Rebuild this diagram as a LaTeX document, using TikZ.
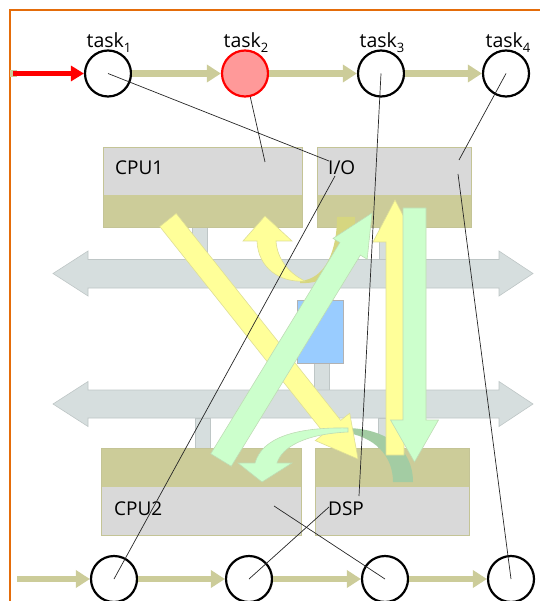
\documentclass[tikz,border=0pt]{standalone}
\usepackage{fontspec}
\setmainfont{Open Sans}
\usetikzlibrary{calc,arrows.meta}
\definecolor{olv}{RGB}{204,204,153}
\definecolor{boxgray}{RGB}{217,217,217}
\definecolor{boxline}{RGB}{196,196,150}
\definecolor{busc}{RGB}{214,222,222}
\definecolor{busline}{RGB}{190,198,198}
\definecolor{bluec}{RGB}{153,204,255}
\definecolor{yelc}{RGB}{255,255,153}
\definecolor{yelline}{RGB}{222,222,150}
\definecolor{grnc}{RGB}{204,255,204}
\definecolor{grnline}{RGB}{190,220,180}
\definecolor{dkgrn}{RGB}{163,204,163}
\definecolor{dkyel}{RGB}{214,214,128}
\definecolor{framec}{RGB}{228,108,10}
\definecolor{pinkc}{RGB}{255,153,153}
\newcommand{\tsub}[1]{\raisebox{-4.5pt}{\fontsize{13}{13}\selectfont #1}}
\newcommand{\blockarr}[6]{%
  \coordinate (hb) at ($(#2)!#5!(#1)$);
  \filldraw[#6] ($(#1)!#3!90:(#2)$) -- ($(hb)!#3!90:(#2)$) -- ($(hb)!#4!90:(#2)$) -- (#2)
    -- ($(hb)!#4!-90:(#2)$) -- ($(hb)!#3!-90:(#2)$) -- ($(#1)!#3!-90:(#2)$) -- cycle;}
\tikzset{
 lbl/.style={font=\fontsize{19}{22}\selectfont, inner sep=0pt},
 tlbl/.style={font=\fontsize{19.5}{22}\selectfont, inner sep=0pt},
 tcirc/.style={circle, draw=black, line width=2.2pt, minimum size=46pt, inner sep=0pt},
 hotcirc/.style={tcirc, draw=red, fill=pinkc},
 oarr/.style={draw=olv, line width=6.5pt, -{Triangle[length=14pt,width=17pt]}},
 rarr/.style={draw=red, line width=5pt, -{Triangle[length=13pt,width=15pt]}},
 mapl/.style={draw=black!85, line width=0.7pt},
 boxb/.style={draw=boxline, line width=0.8pt},
 busst/.style={fill=busc, draw=busline, line width=0.6pt},
 yel/.style={fill=yelc, draw=yelline, line width=0.6pt},
 grn/.style={fill=grnc, draw=grnline, line width=0.6pt},
}
\begin{document}
\begin{tikzpicture}[x=1pt,y=-1pt]
\useasboundingbox (0,0) rectangle (539,601);
% frame
\draw[framec, line width=2pt] (10,602) -- (10,10) -- (540,10);

% task circles
\node[tcirc] (t1) at (108,73.5) {};
\node[hotcirc] (t2) at (245,73.5) {};
\node[tcirc] (t3) at (381,73.5) {};
\node[tcirc] (t4) at (506,73.5) {};
\node[tlbl, anchor=base] (l1) at (109,48) {task\tsub{1}};
\node[tlbl, anchor=base] (l2) at (246,48) {task\tsub{2}};
\node[tlbl, anchor=base] (l3) at (382,48) {task\tsub{3}};
\node[tlbl, anchor=base] (l4) at (508,48) {task\tsub{4}};
\node[tcirc] (b1) at (114,579) {};
\node[tcirc] (b2) at (249,579) {};
\node[tcirc] (b3) at (385,579) {};
\node[tcirc] (b4) at (511,579) {};

% flow arrows
\coordinate (oin) at (10,73.5);
\coordinate (oend) at (17,73.5);
\draw[olv, line width=6.5pt] (oin) -- (oend);
\coordinate (rin) at (13,73.5);
\draw[rarr] (rin) -- (t1);
\draw[oarr] (t1) -- (t2);
\draw[oarr] (t2) -- (t3);
\draw[oarr] (t3) -- (t4);
\coordinate (bin) at (17,579);
\draw[oarr] (bin) -- (b1);
\draw[oarr] (b1) -- (b2);
\draw[oarr] (b2) -- (b3);
\draw[oarr] (b3) -- (b4);

% stubs
\filldraw[busst] (192,227) rectangle (207,260);
\filldraw[busst] (379,227) rectangle (394,260);
\filldraw[busst] (314,363) rectangle (329,390);
\filldraw[busst] (195,418) rectangle (210,448);
\filldraw[busst] (378,418) rectangle (393,448);

% boxes
\fill[boxgray] (103,147) rectangle (302,195);
\fill[olv] (103,195) rectangle (302,227);
\draw[boxb] (103,147) rectangle (302,227);
\fill[boxgray] (317,147) rectangle (471,195);
\fill[olv] (317,195) rectangle (471,227);
\draw[boxb] (317,147) rectangle (471,227);
\fill[olv] (101,448) rectangle (301,487);
\fill[boxgray] (101,487) rectangle (301,535);
\draw[boxb] (101,448) rectangle (301,535);
\fill[olv] (315,448) rectangle (469,487);
\fill[boxgray] (315,487) rectangle (469,535);
\draw[boxb] (315,448) rectangle (469,535);

% buses
\filldraw[busst] (53,273.5) -- (88,251) -- (88,259.5) -- (499,259.5) -- (499,251) -- (533,273.5)
  -- (499,296) -- (499,288) -- (88,288) -- (88,296) -- cycle;
\filldraw[busst] (53,404) -- (88,381.5) -- (88,390) -- (499,390) -- (499,381.5) -- (533,404)
  -- (499,426.5) -- (499,418) -- (88,418) -- (88,426.5) -- cycle;
% bridge
\filldraw[fill=bluec, draw=black!30, line width=0.8pt] (297,300) rectangle (343,363);

% box labels
\node[lbl, anchor=base west] (cpu1) at (115,175) {CPU1};
\node[lbl, anchor=base west] (io) at (328,175) {I/O};
\node[lbl, anchor=base west] (cpu2) at (114,515) {CPU2};
\node[lbl, anchor=base west] (dsp) at (328,515) {DSP};

% curved yellow arrow (I/O -> CPU1)
\fill[dkyel] (300,281) .. controls (326,279) and (337,250) .. (337,217) -- (355,217)
  .. controls (355,255) and (335,285) .. (300,283) -- cycle;
\filldraw[yel] (265,216) -- (292,241) -- (276,241) .. controls (277,258) and (288,273) .. (305,281)
  .. controls (280,283) and (258,268) .. (257,241) -- (243,241) -- cycle;

% dark back of curved green arrow
\fill[dkgrn] (345,428) .. controls (385,428) and (413,448) .. (413,482) -- (393,482)
  .. controls (393,456) and (375,436) .. (342,432) -- cycle;

% vertical arrows
\coordinate (yvt) at (395,455);
\coordinate (yvh) at (395,200);
\blockarr{yvt}{yvh}{9pt}{22pt}{42pt}{yel}
\coordinate (gvt) at (414.5,208);
\coordinate (gvh) at (414.5,462);
\blockarr{gvt}{gvh}{11.5pt}{24pt}{42pt}{grn}

% diagonal arrows
\coordinate (ydt) at (168,220);
\coordinate (ydh) at (358,459);
\blockarr{ydt}{ydh}{10.5pt}{22pt}{41pt}{yel}
\coordinate (gdt) at (221,460);
\coordinate (gdh) at (372,213);
\blockarr{gdt}{gdh}{12pt}{20pt}{42pt}{grn}

% curved green arrow front (DSP -> CPU2)
\filldraw[grn] (262,482) -- (238,463) -- (255,463) .. controls (262,438) and (295,427) .. (348,428)
  -- (348,432) .. controls (305,434) and (282,447) .. (277,463) -- (292,463) -- cycle;

% mapping lines
\coordinate (m1) at (329,161);
\coordinate (m2) at (335,176);
\coordinate (m3) at (265,162);
\coordinate (m4) at (359,496);
\coordinate (m5) at (459,160);
\coordinate (m6) at (458,174);
\coordinate (m7) at (329,507);
\coordinate (m8) at (274,506);
\draw[mapl] (t1.center) -- (m1);
\draw[mapl] (b1.center) -- (m2);
\draw[mapl] (t2) -- (m3);
\draw[mapl] (t3.center) -- (m4);
\draw[mapl] (t4.center) -- (m5);
\draw[mapl] (b4.center) -- (m6);
\draw[mapl] (b2.center) -- (m7);
\draw[mapl] (b3.center) -- (m8);
\end{tikzpicture}
\end{document}
